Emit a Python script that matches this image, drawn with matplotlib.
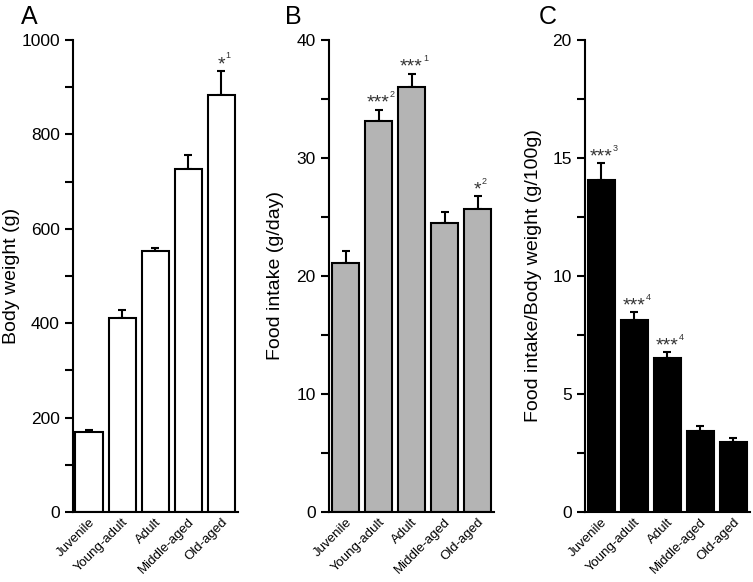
import matplotlib
matplotlib.use("Agg")
import matplotlib.pyplot as plt
from matplotlib.ticker import MultipleLocator

plt.rcParams['font.family'] = ['Liberation Sans', 'DejaVu Sans']

categories = ["Juvenile", "Young-adult", "Adult", "Middle-aged", "Old-aged"]

body_weight = [169, 412, 552, 727, 883]
body_weight_err = [4, 17, 7, 29, 52]
body_weight_stars = ["", "", "", "", "*"]
body_weight_sup = ["", "", "", "", "1"]

food_intake = [21.1, 33.1, 36.0, 24.5, 25.7]
food_intake_err = [1.0, 1.0, 1.15, 0.95, 1.1]
food_intake_stars = ["", "***", "***", "", "*"]
food_intake_sup = ["", "2", "1", "", "2"]

ratio = [14.05, 8.15, 6.54, 3.43, 2.98]
ratio_err = [0.72, 0.31, 0.23, 0.23, 0.17]
ratio_stars = ["***", "***", "***", "", ""]
ratio_sup = ["3", "4", "4", "", ""]

W, H = 753, 582
fig = plt.figure(figsize=(W/100, H/100), dpi=100)

panels = [
    dict(left=73, vals=body_weight, err=body_weight_err, stars=body_weight_stars,
         sup=body_weight_sup, color="white", ymax=1000, major=200, minor=100,
         ylabel="Body weight (g)", letter="A", xl=-0.485, labx=12, letx=21),
    dict(left=329, vals=food_intake, err=food_intake_err, stars=food_intake_stars,
         sup=food_intake_sup, color="#b4b4b4", ymax=40, major=10, minor=5,
         ylabel="Food intake (g/day)", letter="B", xl=-0.5, labx=275, letx=285),
    dict(left=585, vals=ratio, err=ratio_err, stars=ratio_stars, sup=ratio_sup,
         color="black", ymax=20, major=5, minor=2.5,
         ylabel="Food intake/Body weight (g/100g)", letter="C", xl=-0.49,
         labx=533, letx=539),
]

top_px, bot_px, width_px = 40, 512, 165
STAR_FS = 14
for p in panels:
    ax = fig.add_axes([p["left"]/W, (H-bot_px)/H, width_px/W, (bot_px-top_px)/H])
    x = list(range(len(categories)))
    ax.bar(x, p["vals"], width=0.82, color=p["color"], edgecolor="black",
           linewidth=1.5, zorder=2)
    ax.errorbar(x, p["vals"], yerr=[[0]*len(x), p["err"]], fmt="none",
                ecolor="black", elinewidth=1.5, capsize=3.2, capthick=1.5, zorder=1)
    ax.set_xlim(p["xl"], 4.5)
    ax.set_ylim(0, p["ymax"])
    ax.yaxis.set_major_locator(MultipleLocator(p["major"]))
    ax.yaxis.set_minor_locator(MultipleLocator(p["minor"]))
    for s in ["top", "right"]:
        ax.spines[s].set_visible(False)
    for s in ["left", "bottom"]:
        ax.spines[s].set_linewidth(1.5)
    ax.tick_params(axis="y", which="both", direction="out", width=1.5, length=6,
                   labelsize=12.5)
    ax.tick_params(axis="x", length=0, pad=3)
    ax.set_xticks(x)
    ax.set_xticklabels(categories, rotation=45, ha="right", rotation_mode="anchor",
                       fontsize=9.5)
    ax.set_ylabel(p["ylabel"], fontsize=14)
    ax.yaxis.label.set_verticalalignment("center")
    ax.yaxis.set_label_coords((p["labx"] - p["left"])/width_px, 0.5)
    for xi, v, e, st, sp in zip(x, p["vals"], p["err"], p["stars"], p["sup"]):
        if st:
            ax.annotate(st, (xi, v + e), xytext=(0, 1.2), textcoords="offset points",
                        ha="center", va="baseline", fontsize=STAR_FS, color="#333333")
            n = len(st)
            ax.annotate(sp, (xi, v + e),
                        xytext=(n * 0.389 * STAR_FS / 2 + 0.1, 8.8),
                        textcoords="offset points", ha="left", va="baseline",
                        fontsize=6.5, color="#333333")
    fig.text(p["letx"]/W, 1 - 17/H, p["letter"], fontsize=18, ha="left", va="center")

fig.savefig("out.png", dpi=100)
